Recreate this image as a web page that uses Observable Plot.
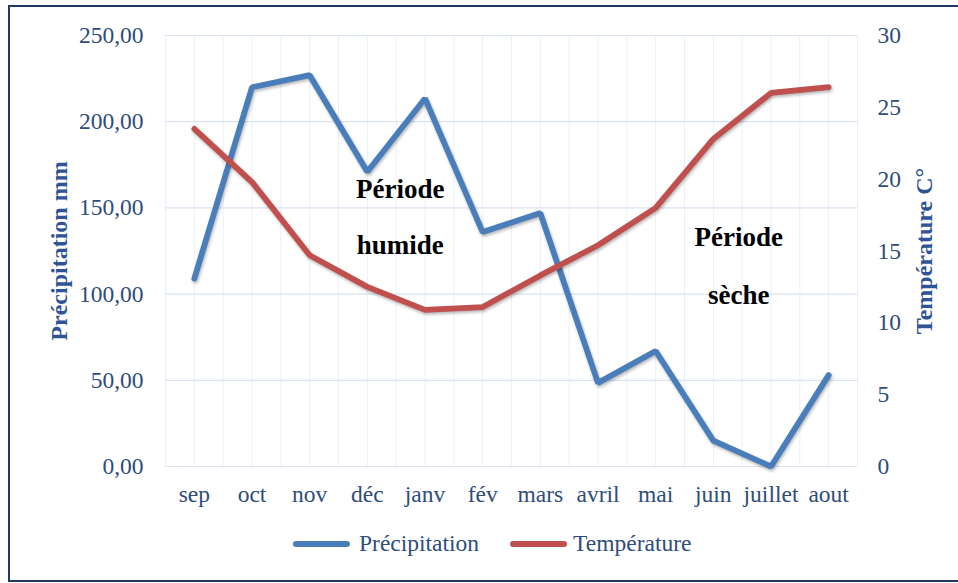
<!DOCTYPE html>
<html><head><meta charset="utf-8">
<script src="https://cdn.jsdelivr.net/npm/d3@7"></script>
<script src="https://cdn.jsdelivr.net/npm/@observablehq/plot@0.6"></script>
<style>
body{margin:0;background:#fff;overflow:hidden;}
#frame{position:absolute;left:8px;top:5px;width:960px;height:577px;border:2px solid #1F3864;box-sizing:border-box;pointer-events:none;}
#chart{position:absolute;left:0;top:0;}
#chart svg text{font-family:'Liberation Serif','Times New Roman',serif;}
#legend{position:absolute;top:530px;left:293px;display:flex;align-items:center;font-family:'Liberation Serif','Times New Roman',serif;font-size:23.5px;color:#2E4D7B;white-space:nowrap;}
#legend .sw{display:inline-block;width:57px;height:6px;border-radius:3px;}
</style></head>
<body>
<div id="chart"></div>
<div id="legend"></div>
<div id="frame"></div>
<script>
const months = ["sep","oct","nov","déc","janv","fév","mars","avril","mai","juin","juillet","aout"];
const precipitation = [109, 220, 227, 171, 213.5, 136, 147, 48.5, 67, 15, 0, 53];
const temperature = [23.5, 19.8, 14.7, 12.5, 10.9, 11.1, 13.3, 15.4, 18.0, 22.8, 26.0, 26.4];
const precipTicks = [0, 50, 100, 150, 200, 250];
const tempTicks = [0, 5, 10, 15, 20, 25, 30];
const seriesNames = ["Précipitation", "Température"];
const seriesColors = ["#4A7EBB", "#C0504D"];
const annotations = [
  {label: "Période", x: 3.57, y: 161},
  {label: "humide", x: 3.57, y: 128},
  {label: "Période", x: 9.44, y: 133},
  {label: "sèche", x: 9.44, y: 99}
];

const pMax = 250, tMax = 30;
const toP = t => t * pMax / tMax;
const precipData = months.map((m, i) => ({i, v: precipitation[i]}));
const tempData = months.map((m, i) => ({i, v: toP(temperature[i])}));
const vGrid = d3.range(-0.5, months.length, 0.5);
const textColor = "#2E4D7B";
const serif = "'Liberation Serif', 'Times New Roman', serif";

const chart = Plot.plot({
  width: 958, height: 520,
  marginLeft: 165, marginRight: 101, marginTop: 35, marginBottom: 54,
  style: {fontFamily: serif, fontSize: "23.5px", color: textColor, background: "transparent"},
  x: {type: "linear", domain: [-0.5, months.length - 0.5]},
  y: {domain: [0, pMax]},
  marks: [
    Plot.ruleX(vGrid, {x: d => d, stroke: "#EAF0F9", strokeWidth: 1}),
    Plot.ruleY(precipTicks, {y: d => d, stroke: "#D9E3F2", strokeWidth: 1.2}),
    Plot.axisX(d3.range(months.length), {tickFormat: i => months[i], tickSize: 0, tickPadding: 19, label: null}),
    Plot.axisY(precipTicks, {anchor: "left", tickFormat: d => d.toFixed(2).replace(".", ","), tickSize: 0, tickPadding: 22, label: null}),
    Plot.axisY(tempTicks.map(toP), {anchor: "right", tickFormat: d => String(Math.round(d * tMax / pMax)), tickSize: 0, tickPadding: 20, label: null}),
    Plot.lineY(precipData, {x: "i", y: "v", stroke: seriesColors[0], strokeWidth: 5.8, strokeLinejoin: "miter", strokeLinecap: "round"}),
    Plot.lineY(tempData, {x: "i", y: "v", stroke: seriesColors[1], strokeWidth: 5.8, strokeLinejoin: "miter", strokeLinecap: "round"}),
    Plot.text(annotations, {x: "x", y: "y", text: "label", fill: "#000", fontWeight: "bold", fontSize: 27}),
    Plot.text(["Précipitation mm"], {frameAnchor: "left", textAnchor: "middle", dx: -106, rotate: -90, fill: "#2F5496", fontWeight: "bold", fontSize: 24}),
    Plot.text(["Température C°"], {frameAnchor: "right", textAnchor: "middle", dx: 67, rotate: -90, fill: "#2F5496", fontWeight: "bold", fontSize: 24})
  ]
});
d3.select(chart).selectAll('g[aria-label="line"] path').style("filter", "drop-shadow(1px 2px 1.5px rgba(0,0,0,0.28))");
document.getElementById("chart").appendChild(chart);

const legend = d3.select("#legend");
seriesNames.forEach((name, k) => {
  legend.append("span").attr("class", "sw").style("background", seriesColors[k]).style("margin-left", k ? "31px" : "0px").style("margin-right", k ? "6px" : "9px");
  legend.append("span").text(name);
});
</script>
</body></html>
